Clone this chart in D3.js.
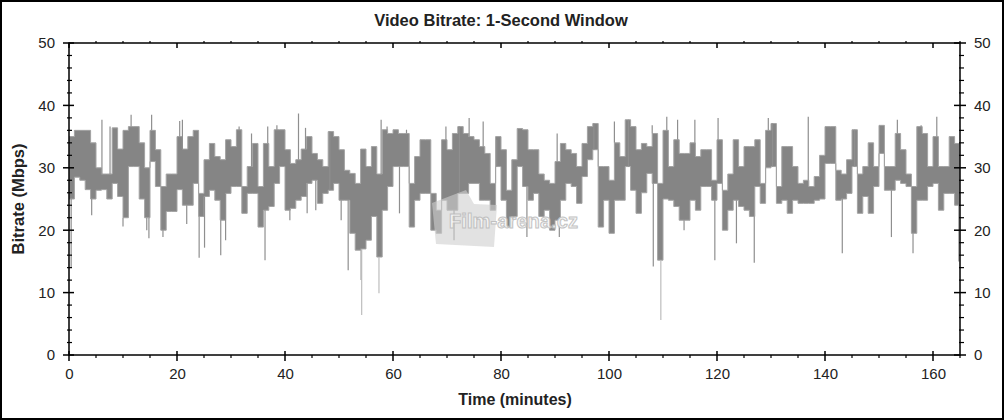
<!DOCTYPE html>
<html><head><meta charset="utf-8">
<script src="https://cdn.jsdelivr.net/npm/d3@7"></script>
<style>
body{margin:0;background:#fff}
svg{display:block}
text{font-family:"Liberation Sans",Arial,sans-serif}
</style>
</head><body>
<svg id="chart" width="1004" height="420"></svg>
<script>
// ---- data (one band per minute) ----
const bandHigh = [35,36,36,36,34,30,29,29,36.4,33,36,36.6,36.6,34,30,36,32.9,27,29,29,
35,33,35,36,25.9,31.3,33.9,31.8,31.3,34.5,33.4,36.1,27,30.2,33.9,27,33.9,30.2,36.1,36.1,
32.9,30.7,31.3,33,35,32.3,31.3,30.2,35.8,35,32.9,29.6,29.1,27.5,33,30.2,33.4,29,36.1,35.5,
36.1,35.5,35.5,27.5,31.8,34.5,34.5,25.9,23.2,34.5,32.9,35.5,36.6,35.5,35,34.5,33.4,32.3,27.5,35,
32.9,26.4,31.3,36.3,36.1,32.9,32.9,29,28,27.5,31,33.9,32.9,32.3,30.2,33.9,36.6,37.1,30.2,30.2,
28,34,31.8,37.7,36.6,32.9,33.9,33.4,35.5,27.5,36,30.2,34.5,32.3,32.3,34,31.8,32.9,32.9,28,
34.5,26.4,29,34.5,30.2,33.4,33.4,34.5,27.5,36,37.1,27,33.4,33.4,30.2,27.5,28,27,28.6,32,
36.6,36.6,29.6,29,31.3,36.1,29,30.2,34,30.2,36.8,30.2,30.2,35.5,32.9,29,27,36.6,35.5,30.2,
35,30.2,30.2,35,33.9];
const bandLow = [25,28.5,28,26.5,25,26.4,26.5,25,27.5,25.4,22,30.2,30.2,25,22,31,27,20,23,23,
26.5,24,24,27.5,22.2,25.4,26.4,24.8,21.6,25.9,27,27,22.7,25.9,25.9,20.5,23.2,23.8,27.5,30.2,
23.2,23.5,24.8,25.4,27.5,28,24.3,25.9,26.4,27.5,24.8,24.8,19.5,16.8,17,18.4,22.2,15.7,23.2,27,
30.2,30.2,30.2,20.5,24.8,25.9,25.9,20,19.5,24.8,23.2,23.2,25.9,25.9,27.5,27.5,24.8,24.8,23.2,30.2,
24.8,20.5,22.2,30.2,27,24.8,25.9,22.2,23.2,20,21.6,24.8,27.5,27,24.3,28.6,31.3,32.9,20.5,24.8,
19.5,24.8,24.8,30.2,26.4,22.7,26,29.1,27.5,15.2,25,24.8,23.8,21.6,21.6,24.8,23.2,27,27,24.8,
27.5,20,23.2,24.8,23.8,23.2,22.2,27,24.3,30,30.2,24.3,24.8,22.7,24.8,24.3,24.3,24.3,24.8,25,
30.7,30.7,24.8,25,25.9,30.2,22.7,25.4,22.7,27,32.3,26.4,26.4,28,27.5,27,19.5,24.8,24.8,27,
27.5,23.2,25.9,25.9,24];
const spikeTimes = [0.4,4.2,6.1,7.6,10.0,11.5,14.4,14.8,15.3,17.4,20.5,21.0,21.8,24.1,25.1,28.1,29.0,31.5,33.8,36.3,
36.8,38.5,40.9,42.5,43.8,44.1,45.7,48.3,50.4,51.7,54.1,54.2,57.4,57.8,58.9,61.2,62.5,69.8,71.3,72.3,
74.1,76.7,79.2,84.8,90.4,90.8,97.2,101.0,103.6,108.0,108.2,109.6,110.7,112.7,113.9,115.9,119.6,120.2,123.6,126.9,
129.5,130.3,136.9,143.2,145.5,152.3,153.4,156.3,157.8,160.7,164.8];
const spikeValues = [14,22.4,37.7,36.6,20.6,38.5,20,18.7,38.5,18.9,37.5,37.7,21,15.6,17.2,16,18.4,36.6,35.5,15.2,
36.6,36.8,21.6,38.7,36.4,22.7,23.2,35.8,21.6,13.6,12,6.4,9.9,37.7,36.6,22.7,36.1,36.6,18.4,36.6,
38,37.4,34.5,18.9,35.5,18.9,37.1,37.4,37.7,36.8,14.2,5.6,38.2,37.7,20,37.7,15.2,38,17.9,14.8,
38,37.1,38.2,16.3,36.1,18.9,37.7,16.3,36.8,38.2,15];
const xTickValues = [0,20,40,60,80,100,120,140,160];
const yTickValues = [0,10,20,30,40,50];
const titleText = "Video Bitrate: 1-Second Window";
const xLabel = "Time (minutes)";
const yLabel = "Bitrate (Mbps)";
const watermark = "Film-arena.cz";

// ---- drawing ----
const svg = d3.select("#chart");
const L = 69, R = 960, T = 43, B = 355;
const x = d3.scaleLinear().domain([0,165]).range([L,R]);
const y = d3.scaleLinear().domain([0,50]).range([B,T]);

svg.append("rect").attr("x",1).attr("y",1).attr("width",1002).attr("height",418)
  .attr("fill","#fff").attr("stroke","#000").attr("stroke-width",2);

const clip = svg.append("clipPath").attr("id","clip").append("rect")
  .attr("x",L).attr("y",T).attr("width",R-L).attr("height",B-T);
const plot = svg.append("g").attr("clip-path","url(#clip)");

const bandData = bandHigh.map((h,i)=>({t:i, hi:h, lo:bandLow[i]}));
const last = bandData[bandData.length-1];
const stepData = bandData.concat([{t:165, hi:last.hi, lo:last.lo}]);
const area = d3.area().x(d=>x(d.t)).y0(d=>y(d.lo)).y1(d=>y(d.hi)).curve(d3.curveStepAfter);
plot.append("path").datum(stepData).attr("d",area)
  .attr("fill","#858585").attr("stroke","#a3a3a3").attr("stroke-width",1);

// spikes
spikeTimes.forEach((t,k)=>{
  const i = Math.min(bandHigh.length-1, Math.floor(t));
  const v = spikeValues[k];
  const base = v > bandHigh[i] ? bandHigh[i] : bandLow[i];
  plot.append("line").attr("x1",x(t)).attr("x2",x(t)).attr("y1",y(base)).attr("y2",y(v))
    .attr("stroke", (v<12) ? "#bdbdbd" : "#8f8f8f").attr("stroke-width",1.2);
});

// watermark on top, semi-transparent
const wm = svg.append("g");
wm.append("path").attr("d","M432,203 L466,190 L474,204 L497,205 L494,247 L436,244 Z")
  .attr("fill","#cfcfcf").attr("opacity",0.6);
wm.append("text").attr("x",449).attr("y",228).attr("font-size",20).attr("font-weight","bold")
  .attr("textLength",129).attr("fill","#f6f6f6").attr("stroke","#bdbdbd").attr("stroke-width",1)
  .attr("opacity",0.9).text(watermark);

// axes frame
const ax = svg.append("g").attr("stroke","#000").attr("stroke-width",1.5);
ax.append("rect").attr("x",L).attr("y",T).attr("width",R-L).attr("height",B-T).attr("fill","none");

// y ticks
const yMinor = d3.range(0,51,2).filter(v=>v%10!==0);
yTickValues.forEach(v=>{
  ax.append("line").attr("x1",L-6).attr("x2",L+5).attr("y1",y(v)).attr("y2",y(v));
  ax.append("line").attr("x1",R-6).attr("x2",R+6).attr("y1",y(v)).attr("y2",y(v));
});
yMinor.forEach(v=>{
  ax.append("line").attr("x1",L-2).attr("x2",L+3).attr("y1",y(v)).attr("y2",y(v)).attr("stroke-width",1.2);
  ax.append("line").attr("x1",R-1).attr("x2",R+4).attr("y1",y(v)).attr("y2",y(v)).attr("stroke-width",1.2);
});
// x ticks
const xMinor = d3.range(0,166,5).filter(v=>v%20!==0);
xTickValues.forEach(v=>{
  ax.append("line").attr("x1",x(v)).attr("x2",x(v)).attr("y1",B-4).attr("y2",B+6);
  ax.append("line").attr("x1",x(v)).attr("x2",x(v)).attr("y1",T).attr("y2",T+5);
});
xMinor.forEach(v=>{
  ax.append("line").attr("x1",x(v)).attr("x2",x(v)).attr("y1",B).attr("y2",B+3).attr("stroke-width",1.2);
  ax.append("line").attr("x1",x(v)).attr("x2",x(v)).attr("y1",T-2).attr("y2",T).attr("stroke-width",1.2);
});

// tick labels via d3 axes
function styleAxis(g){
  g.select(".domain").remove();
  g.selectAll(".tick line").remove();
  g.selectAll("text").attr("font-size",15).attr("fill","#222")
    .attr("font-family","'Liberation Sans',Arial,sans-serif");
}
svg.append("g").attr("transform",`translate(${L},0)`)
  .call(d3.axisLeft(y).tickValues(yTickValues).tickSize(0).tickPadding(14).tickFormat(d3.format("d")))
  .call(styleAxis);
svg.append("g").attr("transform",`translate(${R},0)`)
  .call(d3.axisRight(y).tickValues(yTickValues).tickSize(0).tickPadding(14).tickFormat(d3.format("d")))
  .call(styleAxis);
svg.append("g").attr("transform",`translate(0,${B})`)
  .call(d3.axisBottom(x).tickValues(xTickValues).tickSize(0).tickPadding(13).tickFormat(d3.format("d")))
  .call(styleAxis);

// titles
svg.append("text").attr("x",501).attr("y",26).attr("text-anchor","middle")
  .attr("font-size",16.5).attr("font-weight","bold").attr("fill","#222").text(titleText);
svg.append("text").attr("x",515).attr("y",405).attr("text-anchor","middle")
  .attr("font-size",16).attr("font-weight","bold").attr("fill","#222").text(xLabel);
svg.append("text").attr("transform","translate(24,199) rotate(-90)").attr("text-anchor","middle")
  .attr("font-size",16.5).attr("font-weight","bold").attr("fill","#222").text(yLabel);
</script>
</body></html>
